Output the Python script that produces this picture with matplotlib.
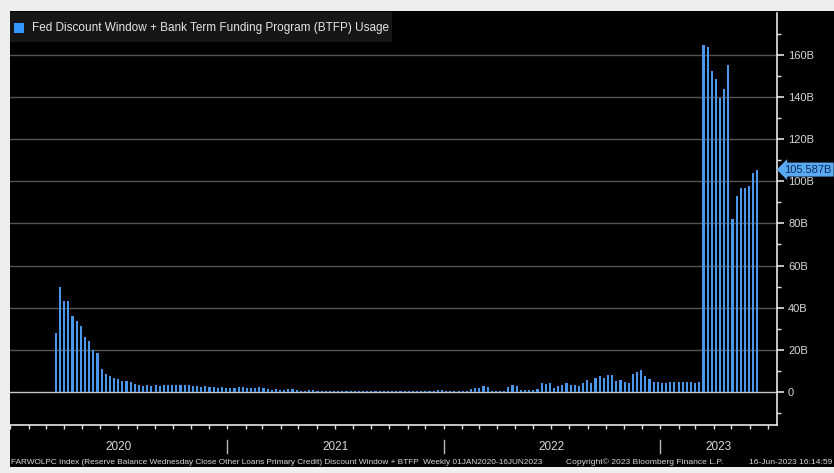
import numpy as np
import pandas as pd
import matplotlib
matplotlib.use("Agg")
import matplotlib.pyplot as plt
import matplotlib.dates as mdates
import matplotlib.transforms as mtransforms
from matplotlib.patches import Rectangle

# ── Data (weekly, Wednesday close, $bn) ──────────────────────────────────────
START_DATE = "2020-01-01"
usage = [
    # 2020
    0.1, 0.1, 0.1, 0.1, 0.1, 0.1, 0.1, 0.1, 0.1, 0.1, 0.1,        # 0-10
    27.7, 50.0, 43.3, 43.0, 36.1, 33.6, 31.4, 26.1, 24.1, 19.7, 18.3,  # 11-21
    10.8, 8.4, 7.5, 6.4, 5.9, 5.2, 5.2, 4.7, 3.6, 3.1, 2.7, 3.1,   # 22-33
    2.7, 3.0, 2.7, 3.1, 3.3, 3.4, 3.1, 3.1, 3.4, 3.1, 2.7, 2.7,    # 34-45
    2.3, 2.7, 2.3, 2.3, 2.0, 2.3, 2.0, 2.0, 1.9, 2.2,              # 46-55
    # 2021
    2.4, 1.9, 1.9, 1.9, 2.2, 1.9, 1.1, 0.8, 1.4, 0.8,              # 56-65
    0.8, 1.1, 1.4, 0.8, 0.5, 0.3, 0.8, 0.8, 0.5,                   # 66-74
    0.5, 0.4, 0.5, 0.4, 0.4, 0.5, 0.4, 0.4, 0.5, 0.4,              # 75-84
    0.4, 0.4, 0.5, 0.4, 0.4, 0.4, 0.4, 0.4, 0.4, 0.3,              # 85-94
    0.3, 0.3, 0.3, 0.3, 0.3, 0.3, 0.3, 0.3,                        # 95-102
    0.8, 0.8, 0.3, 0.3, 0.3, 0.3, 0.3, 0.3,                        # 103-110
    # 2022
    1.3, 1.9, 1.9, 2.5, 2.1, 0.3, 0.3, 0.3, 0.3,                   # 111-119
    2.1, 3.2, 2.9, 0.8, 0.8, 0.8, 0.8, 1.3,                        # 120-127
    4.0, 3.5, 4.0, 1.9, 2.7, 3.2, 4.0, 3.2, 3.2, 2.7,              # 128-137
    4.0, 5.6, 4.0, 6.5, 7.3, 6.5, 7.8, 7.8, 5.2, 5.7,              # 138-147
    4.8, 4.0, 8.3, 9.4, 10.2, 7.3, 6.0, 4.8, 4.8, 4.0,             # 148-157
    # 2023
    4.0, 4.8, 4.8, 4.8, 4.8, 4.8, 4.8, 4.0, 4.8,                   # 158-166
    164.7, 163.9, 152.6, 148.8, 139.4, 144.0, 155.1,               # 167-173
    81.9, 92.9, 96.7, 96.7, 98.0, 103.8, 105.587,                  # 174-180
]
dates = pd.date_range(START_DATE, periods=len(usage), freq="7D")

years = [2020, 2021, 2022, 2023]
y_ticks = [0, 20, 40, 60, 80, 100, 120, 140, 160]
y_labels = ["0" if v == 0 else f"{v}B" for v in y_ticks]
last_value = usage[-1]

TITLE = "Fed Discount Window + Bank Term Funding Program (BTFP) Usage"
FOOT_LEFT = ("FARWOLPC Index (Reserve Balance Wednesday Close Other Loans Primary Credit) "
             "Discount Window + BTFP  Weekly 01JAN2020-16JUN2023")
FOOT_MID = "Copyright\u00a9 2023 Bloomberg Finance L.P."
FOOT_RIGHT = "16-Jun-2023 16:14:59"

# ── Style ────────────────────────────────────────────────────────────────────
FONT = "Liberation Sans"
BAR_COLOR = "#4a96ea"
TXT = "#d8d8d8"
W, H = 834, 473

fig = plt.figure(figsize=(W / 100, H / 100), dpi=100, facecolor="#eeeeee")

# black panel behind everything
fig.patches.append(Rectangle((10 / W, 1 - 467 / H), 1 - 10 / W, (467 - 11) / H,
                             transform=fig.transFigure, facecolor="black",
                             edgecolor="none", zorder=-5))

ax = fig.add_axes([10 / W, 1 - 425 / H, (777 - 10) / W, (425 - 13) / H])
ax.set_facecolor("black")
ax.set_zorder(1)

ax.bar(dates, usage, width=3.6, color=BAR_COLOR, edgecolor="none", zorder=3)

# horizontal grid
for v in y_ticks[1:]:
    ax.axhline(v, color="#555555", lw=1.0, zorder=1)
ax.axhline(0, color="#c8c8c8", lw=1.0, zorder=2)

ax.set_ylim(-15.8, 180)
ax.set_xlim(pd.Timestamp("2019-12-31 12:00"), pd.Timestamp("2023-07-17"))

# right axis
ax.yaxis.tick_right()
ax.set_yticks(y_ticks)
ax.set_yticklabels(y_labels)
ax.set_yticks(np.arange(-10, 180, 10), minor=True)
ax.tick_params(axis="y", which="major", colors="#e0e0e0", length=5, width=1.2,
               labelcolor=TXT, labelsize=8, pad=3)
ax.tick_params(axis="y", which="minor", colors="#e0e0e0", length=3, width=1)
for lab in ax.get_yticklabels():
    lab.set_fontfamily(FONT)

# bottom axis: monthly ticks, no labels
ax.xaxis.set_major_locator(mdates.MonthLocator())
ax.xaxis.set_major_formatter(plt.NullFormatter())
ax.tick_params(axis="x", which="major", colors="#e0e0e0", length=3, width=1)

for side in ["top", "left"]:
    ax.spines[side].set_visible(False)
for side in ["right", "bottom"]:
    ax.spines[side].set_color("#e8e8e8")
    ax.spines[side].set_linewidth(1.2)

# year separators and year labels below the axis
trans = mtransforms.blended_transform_factory(ax.transData, ax.transAxes)
x_end = ax.get_xlim()[1]
for yr in years:
    x0 = mdates.date2num(pd.Timestamp(f"{yr}-01-01"))
    x1 = min(mdates.date2num(pd.Timestamp(f"{yr + 1}-01-01")), x_end)
    if yr > years[0]:
        ax.plot([x0, x0], [-0.036, -0.068], color="#bbbbbb", lw=1,
                transform=trans, clip_on=False)
    ax.text((x0 + x1) / 2, -0.053, str(yr), transform=trans, ha="center",
            va="center", color=TXT, fontsize=8.5, fontfamily=FONT)

# last value tag on the right axis
ytrans = mtransforms.blended_transform_factory(ax.transAxes, ax.transData)
ax.text(1.0095, last_value, f"{last_value:.3f}B", transform=ytrans,
        ha="left", va="center", fontsize=8, fontfamily=FONT, color="#0d2b5a",
        bbox=dict(boxstyle="larrow,pad=0.18", fc="#5aaaf2", ec="none"),
        zorder=6, clip_on=False)

# legend box at top-left
fig.patches.append(Rectangle((10 / W, 1 - 42 / H), (392 - 10) / W, 30 / H,
                             transform=fig.transFigure, facecolor="#161616",
                             edgecolor="none", zorder=5))
fig.patches.append(Rectangle((14 / W, 1 - 33 / H), 10 / W, 10 / H,
                             transform=fig.transFigure, facecolor="#3399ff",
                             edgecolor="none", zorder=6))
fig.text(32 / W, 1 - 28 / H, TITLE, ha="left", va="center", color="#e6e6e6",
         fontsize=8.5, fontfamily=FONT, zorder=7)

# footer
fig.text(11 / W, 1 - 462 / H, FOOT_LEFT, ha="left", va="center", color=TXT,
         fontsize=5.95, fontfamily=FONT)
fig.text(566 / W, 1 - 462 / H, FOOT_MID, ha="left", va="center", color=TXT,
         fontsize=6.1, fontfamily=FONT)
fig.text(832 / W, 1 - 462 / H, FOOT_RIGHT, ha="right", va="center", color=TXT,
         fontsize=6.1, fontfamily=FONT)

fig.savefig("out.png", dpi=100, facecolor=fig.get_facecolor())
